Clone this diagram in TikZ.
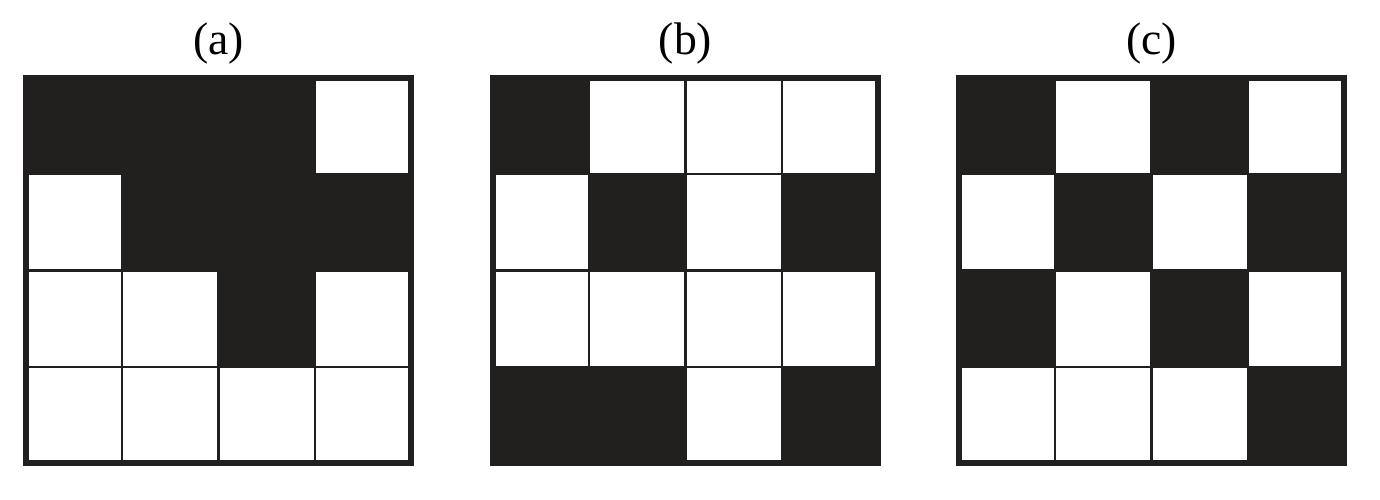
\documentclass[tikz,border=0pt]{standalone}
\usepackage{fontspec}
\setmainfont{Liberation Serif}
\usepackage{xcolor}
\definecolor{cInk}{HTML}{21201E}
\usepackage{tikz}
\usetikzlibrary{positioning}
\tikzset{
  cellon/.style  = {fill=cInk, draw=none},
  gridln/.style  = {draw=cInk, line width=0.6pt, step=1},
  frame/.style   = {draw=cInk, line width=1.7pt},
  lbl/.style     = {font=\fontsize{13}{15}\selectfont, inner sep=0pt},
}

\begin{document}
\begin{tikzpicture}[x=1cm, y=1cm]
  \useasboundingbox (0,0) rectangle (13.8,5);

  %% Three 4x4 panels, cells read row by row from the top
  \foreach \name/\xo/\pat in {
      a/0.26/{1,1,1,0, 0,1,1,1, 0,0,1,0, 0,0,0,0},
      b/4.93/{1,0,0,0, 0,1,0,1, 0,0,0,0, 1,1,0,1},
      c/9.59/{1,0,1,0, 0,1,0,1, 1,0,1,0, 0,0,0,1}}{
    \begin{scope}[shift={(\xo,0.37)}, x=0.9625cm, y=0.9625cm]
      \foreach \v [count=\k from 0] in \pat {
        \pgfmathtruncatemacro{\col}{mod(\k,4)}
        \pgfmathtruncatemacro{\row}{3-div(\k,4)}
        \ifnum\v=1
          \fill[cellon] (\col,\row) rectangle ++(1,1);
        \fi
      }
      \draw[gridln] (0,0) grid (4,4);
      \draw[frame] (0,0) rectangle (4,4);
      \coordinate (top\name) at (2,4);
    \end{scope}
    \node[lbl, above=0.13cm of top\name] (lab\name) {(\name)};
  }
\end{tikzpicture}
\end{document}
